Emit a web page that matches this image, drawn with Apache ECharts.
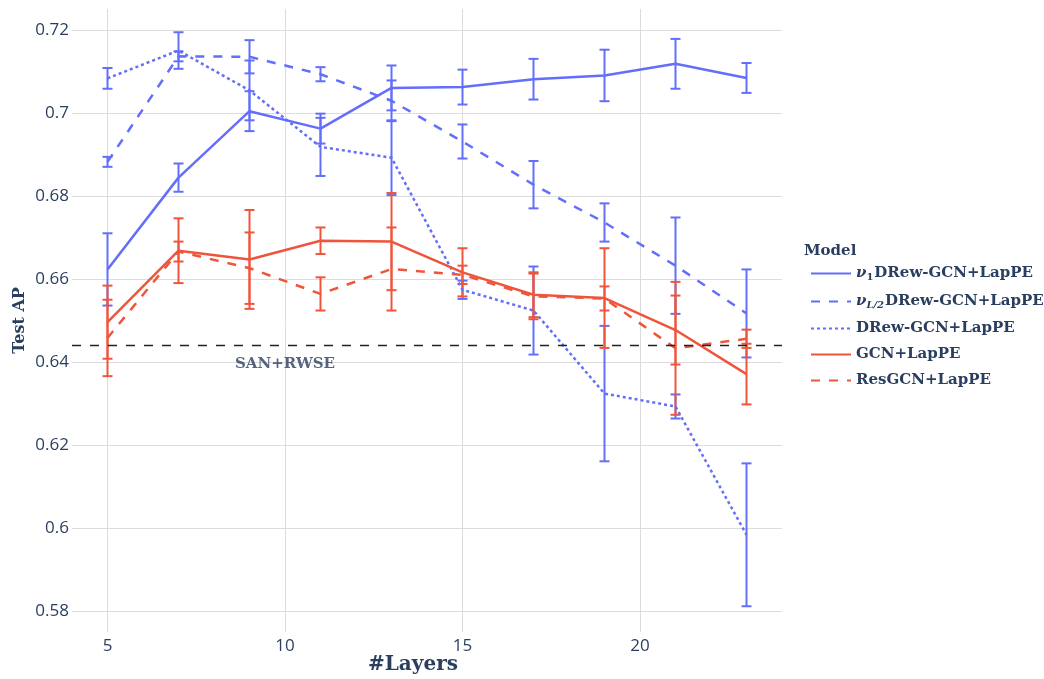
<!DOCTYPE html>
<html>
<head>
<meta charset="utf-8">
<script src="https://cdn.jsdelivr.net/npm/echarts@6/dist/echarts.min.js"></script>
<style>
  html, body { margin: 0; padding: 0; background: #ffffff; }
  #chart { width: 1044px; height: 679px; }
</style>
</head>
<body>
<div id="chart"></div>
<script>
// ---------------- data ----------------
const layers = [5, 7, 9, 11, 13, 15, 17, 19, 21, 23];

const seriesNames = [
  'ν1DRew-GCN+LapPE',
  'νL/2DRew-GCN+LapPE',
  'DRew-GCN+LapPE',
  'GCN+LapPE',
  'ResGCN+LapPE'
];

const nu1Mean   = [0.6623, 0.6844, 0.7004, 0.6962, 0.7060, 0.7062, 0.7081, 0.7090, 0.7118, 0.7084];
const nu1Err    = [0.0087, 0.0034, 0.0048, 0.0036, 0.0054, 0.0042, 0.0049, 0.0062, 0.0060, 0.0036];

const nuHalfMean = [0.6882, 0.7136, 0.7135, 0.7093, 0.7029, 0.6931, 0.6827, 0.6736, 0.6632, 0.6517];
const nuHalfErr  = [0.0012, 0.0012, 0.0040, 0.0017, 0.0049, 0.0041, 0.0057, 0.0046, 0.0116, 0.0106];

const drewMean  = [0.7083, 0.7150, 0.7054, 0.6918, 0.6892, 0.6574, 0.6524, 0.6324, 0.6293, 0.5984];
const drewErr   = [0.0025, 0.0044, 0.0072, 0.0070, 0.0090, 0.0022, 0.0106, 0.0163, 0.0029, 0.0172];

const gcnMean   = [0.6496, 0.6668, 0.6647, 0.6692, 0.6690, 0.6616, 0.6562, 0.6554, 0.6477, 0.6371];
const gcnErr    = [0.0088, 0.0078, 0.0119, 0.0032, 0.0117, 0.0058, 0.0054, 0.0120, 0.0083, 0.0073];

const resMean   = [0.6458, 0.6666, 0.6626, 0.6564, 0.6624, 0.6610, 0.6558, 0.6553, 0.6433, 0.6456];
const resErr    = [0.0092, 0.0024, 0.0086, 0.0040, 0.0100, 0.0022, 0.0055, 0.0029, 0.0160, 0.0022];

const baselineName = 'SAN+RWSE';
const baselineValue = 0.644;
const baselineLabelX = 10;

const xTickLabels = [5, 10, 15, 20];
const yTickLabels = [0.58, 0.6, 0.62, 0.64, 0.66, 0.68, 0.7, 0.72];

// ---------------- styles ----------------
const BLUE = '#636efa';
const RED = '#ef553b';
const TXT = '#2a3f5f';
const GRID = '#dcdcdc';
const SERIF = '"DejaVu Serif", serif';
const SANS = '"Open Sans", sans-serif';

const models = [
  { name: seriesNames[0], mean: nu1Mean,    err: nu1Err,    color: BLUE, dash: 'solid' },
  { name: seriesNames[1], mean: nuHalfMean, err: nuHalfErr, color: BLUE, dash: [9, 9] },
  { name: seriesNames[2], mean: drewMean,   err: drewErr,   color: BLUE, dash: [3, 3] },
  { name: seriesNames[3], mean: gcnMean,    err: gcnErr,    color: RED,  dash: 'solid' },
  { name: seriesNames[4], mean: resMean,    err: resErr,    color: RED,  dash: [9, 9] }
];

// ---------------- axes helpers ----------------
const xMin = 4, xMax = 24, xStep = 1;
const xLineColors = [];
for (let v = xMin; v <= xMax; v += xStep) {
  xLineColors.push(xTickLabels.indexOf(v) >= 0 ? GRID : 'rgba(0,0,0,0)');
}
const yMin = 0.575, yMax = 0.725, yStep = 0.005;
const yLineColors = [];
const nY = Math.round((yMax - yMin) / yStep);
for (let i = 0; i <= nY; i++) {
  const v = Math.round((yMin + i * yStep) * 1000);
  const hit = yTickLabels.some(t => Math.round(t * 1000) === v);
  yLineColors.push(hit ? GRID : 'rgba(0,0,0,0)');
}

function errRender(color) {
  return function (params, api) {
    const x = api.value(0), lo = api.value(1), hi = api.value(2);
    const pLo = api.coord([x, lo]);
    const pHi = api.coord([x, hi]);
    const w = 5;
    const style = { stroke: color, lineWidth: 2, fill: null };
    return {
      type: 'group',
      children: [
        { type: 'line', shape: { x1: pLo[0], y1: pLo[1], x2: pHi[0], y2: pHi[1] }, style: style },
        { type: 'line', shape: { x1: pHi[0] - w, y1: pHi[1], x2: pHi[0] + w, y2: pHi[1] }, style: style },
        { type: 'line', shape: { x1: pLo[0] - w, y1: pLo[1], x2: pLo[0] + w, y2: pLo[1] }, style: style }
      ]
    };
  };
}

const series = [];
models.forEach(m => {
  series.push({
    name: m.name,
    type: 'line',
    data: layers.map((x, i) => [x, m.mean[i]]),
    symbol: 'none',
    lineStyle: { color: m.color, width: 2.5, type: m.dash },
    itemStyle: { color: m.color },
    z: 3,
    animation: false
  });
});
models.forEach(m => {
  series.push({
    name: m.name,
    type: 'custom',
    renderItem: errRender(m.color),
    data: layers.map((x, i) => [x, m.mean[i] - m.err[i], m.mean[i] + m.err[i]]),
    encode: { x: 0, y: [1, 2] },
    itemStyle: { color: m.color },
    z: 3,
    animation: false
  });
});
// baseline
series.push({
  name: baselineName,
  type: 'scatter',
  data: [[baselineLabelX, baselineValue]],
  symbolSize: 1,
  itemStyle: { color: 'rgba(0,0,0,0)' },
  silent: true,
  animation: false,
  label: {
    show: true,
    position: 'bottom',
    distance: 11,
    formatter: baselineName,
    color: TXT,
    fontFamily: SERIF,
    fontWeight: 'bold',
    fontSize: 15
  },
  markLine: {
    silent: true,
    symbol: 'none',
    precision: 4,
    label: { show: false },
    lineStyle: { color: '#222222', width: 1.3, type: [9, 9] },
    data: [{ yAxis: baselineValue }],
    animation: false
  },
  z: 2
});

const legendRich = {
  nu: { fontFamily: SERIF, fontStyle: 'italic', fontWeight: 'bold', fontSize: 15, color: TXT, lineHeight: 16 },
  sub: { fontFamily: SERIF, fontWeight: 'bold', fontSize: 10, color: TXT, padding: [7, 1, 0, 0], lineHeight: 16 },
  subi: { fontFamily: SERIF, fontStyle: 'italic', fontWeight: 'bold', fontSize: 10, color: TXT, padding: [7, 1, 0, 0], lineHeight: 16 },
  t: { fontFamily: SERIF, fontWeight: 'bold', fontSize: 15, color: TXT, lineHeight: 16 }
};

const option = {
  backgroundColor: '#ffffff',
  animation: false,
  title: {
    text: 'Model',
    left: 799,
    top: 239,
    textStyle: { fontFamily: SERIF, fontWeight: 'bold', fontSize: 15, color: TXT }
  },
  legend: {
    data: seriesNames,
    orient: 'vertical',
    left: 805,
    top: 260,
    itemWidth: 40,
    itemHeight: 16,
    itemGap: 11,
    itemStyle: { opacity: 0 },
    textStyle: { rich: legendRich, fontFamily: SERIF, fontWeight: 'bold', fontSize: 15, color: TXT },
    formatter: function (name) {
      if (name === seriesNames[0]) return '{nu|ν}{sub|1}{t|DRew-GCN+LapPE}';
      if (name === seriesNames[1]) return '{nu|ν}{subi|L/2}{t|DRew-GCN+LapPE}';
      return '{t|' + name + '}';
    }
  },
  grid: { left: 72, right: 262, top: 9, bottom: 47, containLabel: false, outerBoundsMode: 'none' },
  xAxis: {
    type: 'value',
    min: xMin,
    max: xMax,
    interval: xStep,
    name: '#Layers',
    nameLocation: 'middle',
    nameGap: 23,
    nameMoveOverlap: false,
    nameTextStyle: { fontFamily: SERIF, fontWeight: 'bold', fontSize: 20, color: TXT, padding: [0, 28, 0, 0] },
    axisLine: { show: false },
    axisTick: { show: false },
    axisLabel: {
      margin: 6,
      fontFamily: SANS,
      fontSize: 17,
      color: TXT,
      formatter: v => (xTickLabels.indexOf(Math.round(v)) >= 0 ? String(Math.round(v)) : '')
    },
    splitLine: { show: true, lineStyle: { color: xLineColors, width: 1 } }
  },
  yAxis: {
    type: 'value',
    min: yMin,
    max: yMax,
    interval: yStep,
    name: 'Test AP',
    nameLocation: 'middle',
    nameGap: 44,
    nameMoveOverlap: false,
    nameRotate: 90,
    nameTextStyle: { fontFamily: SERIF, fontWeight: 'bold', fontSize: 16, color: TXT },
    axisLine: { show: false },
    axisTick: { show: false },
    axisLabel: {
      margin: 3,
      fontFamily: SANS,
      fontSize: 17,
      color: TXT,
      formatter: function (v) {
        const r = Math.round(v * 1000);
        const hit = yTickLabels.some(t => Math.round(t * 1000) === r);
        return hit ? String(r / 1000) : '';
      }
    },
    splitLine: { show: true, lineStyle: { color: yLineColors, width: 1 } }
  },
  series: series
};

const chart = echarts.init(document.getElementById('chart'), null, { renderer: 'canvas' });
chart.setOption(option);
</script>
</body>
</html>
